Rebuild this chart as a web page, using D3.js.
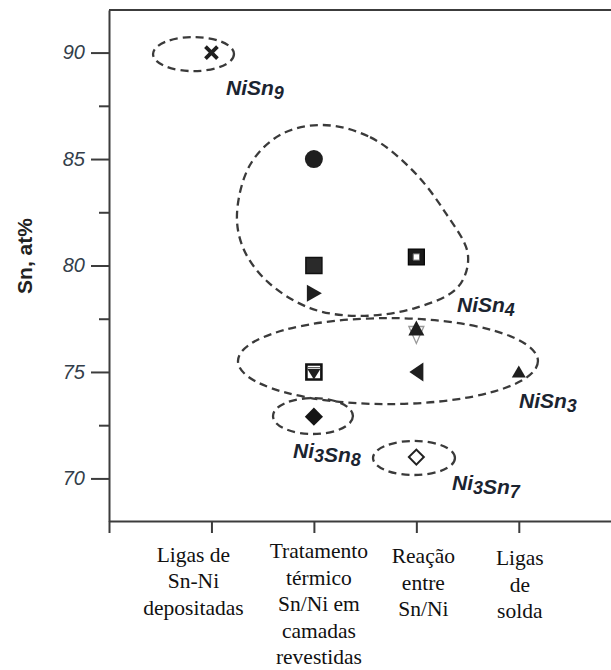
<!DOCTYPE html>
<html>
<head>
<meta charset="utf-8">
<script src="https://cdn.jsdelivr.net/npm/d3@7"></script>
<style>
  body { margin: 0; background: #fff; }
  svg { display: block; }
</style>
</head>
<body>
<svg id="chart" width="611" height="670"></svg>
<script>
// ---- data ----
const categories = [
  ["Ligas de", "Sn-Ni", "depositadas"],
  ["Tratamento", "térmico", "Sn/Ni em", "camadas", "revestidas"],
  ["Reação", "entre", "Sn/Ni"],
  ["Ligas", "de", "solda"]
];
const yTicks = [70, 75, 80, 85, 90];
const yMinorTicks = [72.5, 77.5, 82.5, 87.5];

// one entry per plotted point: category index (1-based), Sn at% and marker
const pointCategory = [1, 2, 2, 2, 2, 2, 3, 3, 3, 3, 4];
const pointSn       = [90, 85, 80, 78.7, 75, 72.9, 80.4, 76.9, 75, 71, 75];
const pointMarker   = ["times", "circle", "square", "triRight", "squareDown", "diamond",
                       "squareDot", "triStar", "triLeft", "diamondOpen", "triUp"];

// phase groupings (dashed outlines), in category / Sn at% units
const phaseNames  = ["NiSn9", "NiSn4", "NiSn3", "Ni3Sn8", "Ni3Sn7"];
const phaseLabelX = [1.142, 3.397, 4.002, 1.796, 3.348];
const phaseLabelY = [88.01, 77.82, 73.31, 70.96, 69.46];

const ellipseCX = [0.825, 2.723, 1.991, 2.977];
const ellipseCY = [89.93, 75.51, 72.93, 70.96];
const ellipseRX = [0.395, 1.464, 0.39, 0.40];
const ellipseRY = [0.80, 2.02, 0.845, 0.80];

// closed outline around the NiSn4 group
const blobOutline = [
  [2.079, 86.60], [2.548, 86.03], [2.958, 84.49], [3.280, 82.51], [3.504, 80.49],
  [3.407, 78.99], [2.987, 78.00], [2.430, 77.63], [1.962, 78.00], [1.552, 79.22],
  [1.318, 80.73], [1.249, 82.37], [1.376, 84.72], [1.669, 86.13]
];

// ---- layout ----
const plotLeft = 109, plotTop = 10, plotBottom = 521, plotRight = 611;
const labelShift = [[-18, 3.5], [5, 0], [7, 5], [1, 7]]; // x-label nudges

const svg = d3.select("#chart");
const x = d3.scaleLinear().domain([0, 4.9]).range([plotLeft, plotRight]);
const y = d3.scaleLinear().domain([68, 92]).range([plotBottom, plotTop]);

const axisColor = "#3c3c3c";

// top frame line
svg.append("line")
  .attr("x1", plotLeft).attr("x2", plotRight).attr("y1", plotTop).attr("y2", plotTop)
  .attr("stroke", axisColor).attr("stroke-width", 2);

// left axis: major and minor ticks
const gY = svg.append("g").attr("transform", `translate(${plotLeft},0)`)
  .call(d3.axisLeft(y).tickValues(yTicks).tickSize(18).tickPadding(6).tickSizeOuter(0));
const gYm = svg.append("g").attr("transform", `translate(${plotLeft},0)`)
  .call(d3.axisLeft(y).tickValues(yMinorTicks).tickSize(10).tickFormat("").tickSizeOuter(0));
gYm.select(".domain").remove();

// bottom axis
const gX = svg.append("g").attr("transform", `translate(0,${plotBottom})`)
  .call(d3.axisBottom(x).tickValues([0, 1, 2, 3, 4]).tickSize(12).tickFormat("").tickSizeOuter(0));

[gY, gYm, gX].forEach(g => {
  g.selectAll("path.domain").attr("stroke", axisColor).attr("stroke-width", 2);
  g.selectAll(".tick line").attr("stroke", axisColor).attr("stroke-width", 2);
});
gY.selectAll(".tick text")
  .attr("font-family", "Liberation Sans, Arial, sans-serif")
  .attr("font-style", "italic")
  .attr("font-size", 20)
  .attr("fill", "#333e4a");

// y-axis title
svg.append("text")
  .attr("transform", `translate(32,256) rotate(-90)`)
  .attr("text-anchor", "middle")
  .attr("font-family", "Liberation Sans, Arial, sans-serif")
  .attr("font-weight", "bold")
  .attr("font-size", 21)
  .attr("fill", "#222")
  .text("Sn, at%");

// category labels
categories.forEach((lines, i) => {
  const t = svg.append("text")
    .attr("text-anchor", "middle")
    .attr("font-family", "Liberation Serif, Times New Roman, serif")
    .attr("font-size", 21.5)
    .attr("fill", "#111");
  lines.forEach((ln, j) => {
    t.append("tspan")
      .attr("x", x(i + 1) + labelShift[i][0])
      .attr("y", 558 + labelShift[i][1] + j * 26.6)
      .text(ln);
  });
});

// ---- phase outlines ----
function styleDash(sel) {
  return sel.attr("stroke", "#3a3a3a").attr("stroke-width", 2.3)
    .attr("stroke-dasharray", "8,5").attr("fill", "none");
}

ellipseCX.forEach((cx, i) => {
  styleDash(svg.append("ellipse")
    .attr("cx", x(cx)).attr("cy", y(ellipseCY[i]))
    .attr("rx", x(ellipseRX[i]) - x(0))
    .attr("ry", y(68) - y(68 + ellipseRY[i])));
});

const blobLine = d3.line()
  .x(d => x(d[0])).y(d => y(d[1]))
  .curve(d3.curveCatmullRomClosed.alpha(0.5));
styleDash(svg.append("path").attr("d", blobLine(blobOutline)));

// ---- markers ----
const ink = "#1f1f1f";
function poly(pts) {
  return { draw(ctx) { ctx.moveTo(pts[0][0], pts[0][1]); pts.slice(1).forEach(p => ctx.lineTo(p[0], p[1])); ctx.closePath(); } };
}
const timesType = { draw(ctx, size) { const r = Math.sqrt(size) / 2;
  ctx.moveTo(-r, -r); ctx.lineTo(r, r); ctx.moveTo(r, -r); ctx.lineTo(-r, r); } };

const markerDraw = {
  times: g => g.append("path").attr("d", d3.symbol(timesType, 144)())
    .attr("stroke", ink).attr("stroke-width", 3.8).attr("fill", "none"),
  circle: g => g.append("path").attr("d", d3.symbol(d3.symbolCircle, Math.PI * 81)()).attr("fill", ink),
  square: g => g.append("path").attr("d", d3.symbol(d3.symbolSquare, 256)())
    .attr("fill", "#2a2a2a").attr("stroke", "#111").attr("stroke-width", 1.5),
  triRight: g => g.append("path").attr("d", d3.symbol(poly([[-7, -8.5], [8, 0], [-7, 8.5]]))()).attr("fill", ink),
  triLeft: g => g.append("path").attr("d", d3.symbol(poly([[7, -9.5], [-7, 0], [7, 9.5]]))()).attr("fill", ink),
  triUp: g => g.append("path").attr("d", d3.symbol(poly([[0, -6.5], [-7, 5.5], [7, 5.5]]))()).attr("fill", ink),
  squareDown: g => {
    g.append("path").attr("d", d3.symbol(d3.symbolSquare, 225)())
      .attr("fill", "#fff").attr("stroke", "#111").attr("stroke-width", 2.6);
    g.append("line").attr("x1", -6.5).attr("x2", 6.5).attr("y1", -4.3).attr("y2", -4.3)
      .attr("stroke", "#555").attr("stroke-width", 1.2);
    g.append("path").attr("d", d3.symbol(poly([[-6.5, -3], [6.5, -3], [0, 7.5]]))()).attr("fill", ink);
  },
  diamond: g => g.append("path").attr("d", d3.symbol(d3.symbolSquare, 165)())
    .attr("transform", "rotate(45)").attr("fill", "#151515"),
  diamondOpen: g => g.append("path").attr("d", d3.symbol(d3.symbolSquare, 112)())
    .attr("transform", "rotate(45)").attr("fill", "#fff").attr("stroke", "#222").attr("stroke-width", 2),
  squareDot: g => {
    g.append("path").attr("d", d3.symbol(d3.symbolSquare, 256)())
      .attr("fill", "#1a1a1a").attr("stroke", "#000").attr("stroke-width", 1.2);
    g.append("path").attr("d", d3.symbol(d3.symbolSquare, 40)())
      .attr("fill", "#fff").attr("stroke", "#666").attr("stroke-width", 1);
  },
  triStar: g => {
    g.append("path").attr("d", d3.symbol(poly([[-7.5, -5], [7.5, -5], [0, 12]]))())
      .attr("fill", "none").attr("stroke", "#999").attr("stroke-width", 1.3);
    g.append("path").attr("d", d3.symbol(poly([[0, -11], [-8, 4], [8, 4]]))()).attr("fill", ink);
  }
};

pointSn.forEach((v, i) => {
  const g = svg.append("g").attr("transform", `translate(${x(pointCategory[i])},${y(v)})`);
  markerDraw[pointMarker[i]](g);
});

// ---- phase labels (digits drawn as subscripts) ----
phaseNames.forEach((name, i) => {
  const t = svg.append("text")
    .attr("x", x(phaseLabelX[i])).attr("y", y(phaseLabelY[i]))
    .attr("font-family", "Liberation Sans, Arial, sans-serif")
    .attr("font-weight", "bold").attr("font-style", "italic")
    .attr("font-size", 21).attr("fill", "#1b2430");
  name.match(/\d+|\D+/g).forEach(part => {
    if (/\d/.test(part)) {
      t.append("tspan").attr("font-size", 18).attr("dy", 4).text(part);
      t.append("tspan").attr("dy", -4).text("");
    } else {
      t.append("tspan").text(part);
    }
  });
});
</script>
</body>
</html>
